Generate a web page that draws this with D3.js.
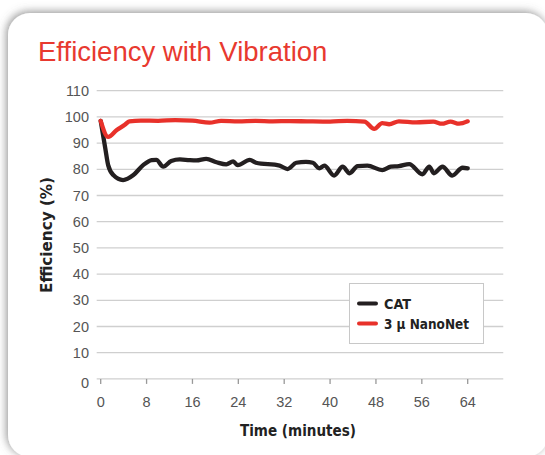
<!DOCTYPE html>
<meta charset="utf-8">
<script src="https://cdn.jsdelivr.net/npm/d3@7"></script>
<style>
body { margin: 0; background: #fff; }
text { font-family: "Liberation Sans", Arial, sans-serif; }
.tick-label { fill: #555; font-size: 14.5px; }
.axis-title { font-family: "DejaVu Sans Condensed", "Liberation Sans", sans-serif; font-weight: bold; font-size: 15.5px; fill: #222; }
.legend-label { font-family: "DejaVu Sans Condensed", "Liberation Sans", sans-serif; font-weight: bold; font-size: 14.5px; fill: #222; }
</style>
<body>
<script>

// time in minutes, efficiency in %
var catTime = [0, 0.8, 1.3, 2.2, 3.9, 5.7, 7.4, 8.9, 9.7, 10.9, 12.3, 13.8, 15.5, 16.7, 18.4, 20.2, 21.9, 23.1, 23.9, 26, 27.1, 31.2, 32.6, 34.1, 35.8, 37, 38.1, 39, 40.7, 42.2, 43.4, 44.8, 46.5, 49.1, 50.6, 52, 53.8, 56.1, 57.3, 58.1, 59.6, 61.3, 63.1, 64];
var catEff  = [98.5, 88, 81.6, 77.8, 75.9, 77.8, 81.6, 83.5, 83.6, 81, 83.2, 83.8, 83.5, 83.4, 84, 82.7, 81.9, 83, 81.6, 83.6, 82.5, 81.4, 80.1, 82.5, 82.8, 82.5, 80.4, 81.4, 77.6, 81, 78.5, 81.2, 81.4, 79.7, 81, 81.2, 82, 78.1, 81, 78.5, 81, 77.6, 80.6, 80.4];

var nanoTime = [0, 1.3, 2.8, 4.2, 5, 7, 10, 13, 16, 19, 21, 24, 27, 30, 33, 36, 40, 43, 46, 47.7, 49.1, 50.3, 52, 55, 58, 59.5, 61, 62.5, 64];
var nanoEff  = [98.5, 92.4, 95, 97, 98.3, 98.6, 98.5, 98.8, 98.6, 97.8, 98.5, 98.3, 98.5, 98.3, 98.4, 98.3, 98.2, 98.5, 98.2, 95.4, 97.6, 97.2, 98.3, 97.9, 98.2, 97.4, 98.2, 97.4, 98.3];

var xTicks = [0, 8, 16, 24, 32, 40, 48, 56, 64];
var yTicks = [0, 10, 20, 30, 40, 50, 60, 70, 80, 90, 100, 110];
var seriesNames = ["CAT", "3 \u00b5 NanoNet"];
var seriesColors = ["#231f20", "#e8312a"];

var width = 545, height = 455;

var svg = d3.select("body").append("svg")
    .attr("width", width)
    .attr("height", height);

// card with soft shadow
var defs = svg.append("defs");
var f = defs.append("filter").attr("id", "shadow")
    .attr("x", "-10%").attr("y", "-10%").attr("width", "120%").attr("height", "120%");
f.append("feDropShadow").attr("dx", -1.5).attr("dy", -1.5)
    .attr("stdDeviation", 4).attr("flood-color", "#666").attr("flood-opacity", 0.7);

svg.append("rect")
    .attr("x", 8).attr("y", 13)
    .attr("width", 540).attr("height", 444)
    .attr("rx", 22).attr("ry", 22)
    .attr("fill", "#fff")
    .attr("filter", "url(#shadow)");

svg.append("text")
    .attr("x", 38).attr("y", 61)
    .attr("fill", "#e8392f")
    .style("font-size", "27.5px")
    .text("Efficiency with Vibration");

var x = d3.scaleLinear().domain([0, 64]).range([100.7, 467.7]);
var y = d3.scaleLinear().domain([0, 110]).range([378.9, 90.7]);

var x0 = x(-0.7), x1 = x(70.2);

// gridlines
svg.append("g").selectAll("line")
    .data(yTicks.filter(function(d) { return d > 0; }))
    .enter().append("line")
    .attr("x1", x0).attr("x2", x1)
    .attr("y1", function(d) { return y(d); })
    .attr("y2", function(d) { return y(d); })
    .attr("stroke", "#cfcfcf")
    .attr("stroke-width", 1.3);

// y labels
svg.append("g").selectAll("text")
    .data(yTicks)
    .enter().append("text")
    .attr("class", "tick-label")
    .attr("x", 89)
    .attr("y", function(d) { return y(d) + (d == 0 ? 4 : 0); })
    .attr("dy", "0.35em")
    .attr("text-anchor", "end")
    .text(function(d) { return d; });

// x axis line and ticks
svg.append("line")
    .attr("x1", x0).attr("x2", x1)
    .attr("y1", y(0)).attr("y2", y(0))
    .attr("stroke", "#cfcfcf").attr("stroke-width", 1.3);

svg.append("g").selectAll("line")
    .data(xTicks)
    .enter().append("line")
    .attr("x1", function(d) { return x(d); })
    .attr("x2", function(d) { return x(d); })
    .attr("y1", y(0)).attr("y2", y(0) + 5)
    .attr("stroke", "#999").attr("stroke-width", 1.3);

svg.append("g").selectAll("text")
    .data(xTicks)
    .enter().append("text")
    .attr("class", "tick-label")
    .attr("x", function(d) { return x(d); })
    .attr("y", 402)
    .attr("dy", "0.35em")
    .attr("text-anchor", "middle")
    .text(function(d) { return d; });

svg.append("text")
    .attr("class", "axis-title")
    .attr("x", 298).attr("y", 436)
    .attr("text-anchor", "middle")
    .attr("textLength", 116).attr("lengthAdjust", "spacingAndGlyphs")
    .text("Time (minutes)");

svg.append("text")
    .attr("class", "axis-title")
    .attr("transform", "translate(52,235) rotate(-90)")
    .attr("text-anchor", "middle")
    .attr("textLength", 116).attr("lengthAdjust", "spacingAndGlyphs")
    .text("Efficiency (%)");

// series
var line = d3.line()
    .x(function(d) { return x(d[0]); })
    .y(function(d) { return y(d[1]); })
    .curve(d3.curveMonotoneX);

var catData = d3.zip(catTime, catEff);
var nanoData = d3.zip(nanoTime, nanoEff);

[catData, nanoData].forEach(function(data, i) {
  svg.append("path")
      .datum(data)
      .attr("d", line)
      .attr("fill", "none")
      .attr("stroke", seriesColors[i])
      .attr("stroke-width", 4.3)
      .attr("stroke-linejoin", "round")
      .attr("stroke-linecap", "round");
});

// legend
var lg = svg.append("g");
lg.append("rect")
    .attr("x", 349.5).attr("y", 283.5)
    .attr("width", 134).attr("height", 60)
    .attr("fill", "#fff")
    .attr("stroke", "#c8c8c8").attr("stroke-width", 1);

var labelWidths = [27, 85];
seriesNames.forEach(function(name, i) {
  var ly = 303.5 + i * 20;
  lg.append("line")
      .attr("x1", 359).attr("x2", 376)
      .attr("y1", ly).attr("y2", ly)
      .attr("stroke", seriesColors[i])
      .attr("stroke-width", 4)
      .attr("stroke-linecap", "round");
  lg.append("text")
      .attr("class", "legend-label")
      .attr("x", 384).attr("y", ly)
      .attr("dy", "0.36em")
      .attr("textLength", labelWidths[i]).attr("lengthAdjust", "spacingAndGlyphs")
      .text(name);
});

</script>
</body>
